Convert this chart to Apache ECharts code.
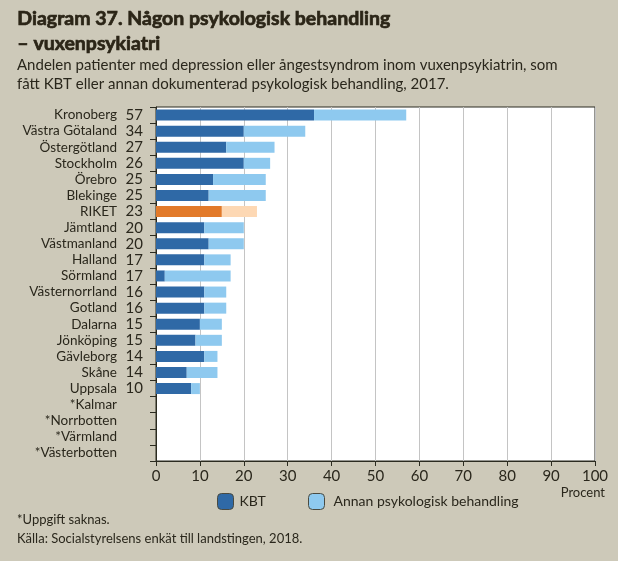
<!DOCTYPE html>
<html>
<head>
<meta charset="utf-8">
<script src="https://cdn.jsdelivr.net/npm/echarts@6/dist/echarts.min.js"></script>
<style>
html,body{margin:0;padding:0;background:#cdc9b9;}
#c{width:618px;height:561px;}
</style>
</head>
<body>
<div id="c"></div>
<script>
var categories = ['Kronoberg','Västra Götaland','Östergötland','Stockholm','Örebro','Blekinge','RIKET','Jämtland','Västmanland','Halland','Sörmland','Västernorrland','Gotland','Dalarna','Jönköping','Gävleborg','Skåne','Uppsala','*Kalmar','*Norrbotten','*Värmland','*Västerbotten'];
var totalLabels = ['57','34','27','26','25','25','23','20','20','17','17','16','16','15','15','14','14','10','','','',''];
var kbt =   [36,20,16,20,13,12,15,11,12,11,2,11,11,10,9,11,7,8,null,null,null,null];
var annan = [21,14,11,6,12,13,8,9,8,6,15,5,5,5,6,3,7,2,null,null,null,null];
var xTicks = [0,10,20,30,40,50,60,70,80,90,100];

var C_DARK = '#2f69a6', C_LIGHT = '#8ec9ef', C_OR = '#e27a2a', C_OR_L = '#fdd8b4';
var TXT = '#2a271c';
var FONT = 'Lato';

var kbtData = kbt.map(function(v,i){
  return categories[i]==='RIKET' ? {value:v,itemStyle:{color:C_OR}} : v;
});
var annanData = annan.map(function(v,i){
  return categories[i]==='RIKET' ? {value:v,itemStyle:{color:C_OR_L}} : v;
});

var chart = echarts.init(document.getElementById('c'), null, {renderer:'canvas'});
chart.setOption({
  backgroundColor:'#cdc9b9',
  animation:false,
  textStyle:{fontFamily:FONT},
  grid:{left:156,top:107,right:23,bottom:100,show:true,backgroundColor:'#ffffff',borderColor:'#2b2b20',borderWidth:1,containLabel:false},
  legend:[
    {left:217,top:493,padding:0,itemWidth:16,itemHeight:16,itemGap:0,data:['KBT'],
     itemStyle:{borderColor:'#4a4a40',borderWidth:1},
     textStyle:{fontFamily:FONT,fontSize:14,color:TXT,padding:[0,0,0,1]},selectedMode:false},
    {left:308,top:493,padding:0,itemWidth:16,itemHeight:16,itemGap:0,data:['Annan psykologisk behandling'],
     itemStyle:{borderColor:'#4a4a40',borderWidth:1},
     textStyle:{fontFamily:FONT,fontSize:14,color:TXT,padding:[0,0,0,4]},selectedMode:false}
  ],
  xAxis:{type:'value',min:0,max:100,interval:10,
    axisLine:{show:true,lineStyle:{color:'#2b2b20',width:1}},
    axisTick:{show:true,length:5,lineStyle:{color:'#2b2b20'}},
    axisLabel:{fontFamily:FONT,fontSize:15,color:TXT,margin:8,
      formatter:function(v){return xTicks.indexOf(v)>=0?String(v):'';}},
    splitLine:{show:true,lineStyle:{color:'#c4c4c4',width:1}}
  },
  yAxis:[
    {type:'category',data:categories,inverse:true,
     axisLine:{show:true,lineStyle:{color:'#2b2b20',width:1}},
     axisTick:{show:true,length:6,inside:false,lineStyle:{color:'#2b2b20'}},
     axisLabel:{interval:0,fontFamily:FONT,fontSize:13.5,color:TXT,margin:39}},
    {type:'category',data:categories,inverse:true,position:'left',
     axisLine:{show:false},axisTick:{show:false},splitLine:{show:false},
     axisLabel:{interval:0,fontFamily:FONT,fontSize:15,color:TXT,margin:13,
       formatter:function(v,i){return totalLabels[i];}}}
  ],
  series:[
    {name:'KBT',type:'bar',stack:'a',yAxisIndex:0,barWidth:11,data:kbtData,itemStyle:{color:C_DARK}},
    {name:'Annan psykologisk behandling',type:'bar',stack:'a',yAxisIndex:0,barWidth:11,data:annanData,itemStyle:{color:C_LIGHT}}
  ],
  graphic:[
    {type:'text',left:17,top:6,style:{text:'Diagram 37. Någon psykologisk behandling\n– vuxenpsykiatri',fontFamily:FONT,fontWeight:'bold',fontSize:19.5,lineHeight:25,fill:'#2b2517',stroke:'#2b2517',lineWidth:0.7}},
    {type:'text',left:17,top:56,style:{text:'Andelen patienter med depression eller ångestsyndrom inom vuxenpsykiatrin, som\nfått KBT eller annan dokumenterad psykologisk behandling, 2017.',fontFamily:FONT,fontSize:15,lineHeight:19,fill:TXT}},
    {type:'text',right:13,top:486,style:{text:'Procent',fontFamily:FONT,fontSize:13,fill:TXT}},
    {type:'text',left:17,top:510,style:{text:'*Uppgift saknas.\nKälla: Socialstyrelsens enkät till landstingen, 2018.',fontFamily:FONT,fontSize:13,lineHeight:19,fill:TXT}}
  ]
});
</script>
</body>
</html>
